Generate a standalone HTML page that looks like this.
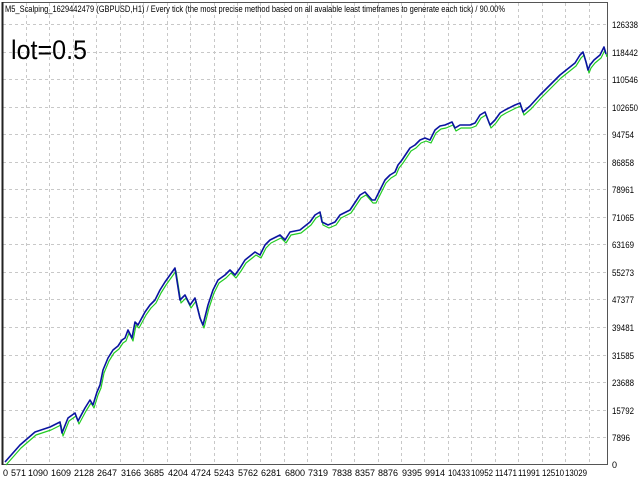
<!DOCTYPE html>
<html><head><meta charset="utf-8"><style>
html,body{margin:0;padding:0;background:#fff;}
svg{display:block;font-family:"Liberation Sans",Arial,sans-serif;}
</style></head><body>
<svg width="640" height="480" viewBox="0 0 640 480" xmlns="http://www.w3.org/2000/svg">
<rect width="640" height="480" fill="#fff"/>
<g stroke="#c8c8c8" stroke-width="1" stroke-dasharray="3,3">
<line x1="3" y1="24.5" x2="607" y2="24.5"/><line x1="3" y1="52.5" x2="607" y2="52.5"/><line x1="3" y1="79.5" x2="607" y2="79.5"/><line x1="3" y1="107.5" x2="607" y2="107.5"/><line x1="3" y1="134.5" x2="607" y2="134.5"/><line x1="3" y1="162.5" x2="607" y2="162.5"/><line x1="3" y1="189.5" x2="607" y2="189.5"/><line x1="3" y1="217.5" x2="607" y2="217.5"/><line x1="3" y1="244.5" x2="607" y2="244.5"/><line x1="3" y1="272.5" x2="607" y2="272.5"/><line x1="3" y1="299.5" x2="607" y2="299.5"/><line x1="3" y1="327.5" x2="607" y2="327.5"/><line x1="3" y1="355.5" x2="607" y2="355.5"/><line x1="3" y1="382.5" x2="607" y2="382.5"/><line x1="3" y1="410.5" x2="607" y2="410.5"/><line x1="3" y1="437.5" x2="607" y2="437.5"/>
<line x1="26.5" y1="3" x2="26.5" y2="464"/><line x1="49.5" y1="3" x2="49.5" y2="464"/><line x1="73.5" y1="3" x2="73.5" y2="464"/><line x1="96.5" y1="3" x2="96.5" y2="464"/><line x1="120.5" y1="3" x2="120.5" y2="464"/><line x1="143.5" y1="3" x2="143.5" y2="464"/><line x1="167.5" y1="3" x2="167.5" y2="464"/><line x1="190.5" y1="3" x2="190.5" y2="464"/><line x1="214.5" y1="3" x2="214.5" y2="464"/><line x1="237.5" y1="3" x2="237.5" y2="464"/><line x1="260.5" y1="3" x2="260.5" y2="464"/><line x1="284.5" y1="3" x2="284.5" y2="464"/><line x1="307.5" y1="3" x2="307.5" y2="464"/><line x1="331.5" y1="3" x2="331.5" y2="464"/><line x1="354.5" y1="3" x2="354.5" y2="464"/><line x1="378.5" y1="3" x2="378.5" y2="464"/><line x1="401.5" y1="3" x2="401.5" y2="464"/><line x1="424.5" y1="3" x2="424.5" y2="464"/><line x1="448.5" y1="3" x2="448.5" y2="464"/><line x1="471.5" y1="3" x2="471.5" y2="464"/><line x1="495.5" y1="3" x2="495.5" y2="464"/><line x1="518.5" y1="3" x2="518.5" y2="464"/><line x1="542.5" y1="3" x2="542.5" y2="464"/><line x1="565.5" y1="3" x2="565.5" y2="464"/><line x1="589.5" y1="3" x2="589.5" y2="464"/>
</g>
<rect x="2.5" y="2.5" width="605" height="462" fill="none" stroke="#555" stroke-width="1"/>
<line x1="2.5" y1="2" x2="2.5" y2="465" stroke="#222" stroke-width="2"/>
<g fill="none" stroke-linejoin="round">
<polyline stroke="#22cc22" stroke-width="1.2" transform="translate(1,3)" points="5,462 20,445 35,432 50,427 60,422 62,433 68,418 75,413 78,421 85,408 90,400 93,405 97,392 100,385 103,370 108,358 113,350 118,346 122,340 125,338 128,330 132,338 135,322 138,325 145,312 150,305 155,300 160,290 165,282 170,275 175,268 180,300 185,295 190,305 195,298 200,318 203,325 208,305 213,290 218,280 225,275 230,270 235,275 240,268 245,260 255,252 260,255 265,245 270,240 280,235 285,240 290,232 300,230 310,222 315,215 320,212 322,222 328,225 335,222 340,215 350,210 360,195 365,192 372,200 375,200 380,190 385,180 390,175 395,172 398,165 402,160 410,148 415,145 420,140 425,138 430,140 435,130 440,126 445,125 452,122 455,128 460,125 470,125 475,123 480,115 485,112 490,125 495,120 500,113 505,110 515,105 520,103 523,112 530,106 540,95 550,85 560,75 570,67 575,63 580,55 583,52 586,62 588,70 590,65 594,60 600,55 604,47 606,54"/>
<polyline stroke="#0a14a0" stroke-width="1.6" points="5,462 20,445 35,432 50,427 60,422 62,433 68,418 75,413 78,421 85,408 90,400 93,405 97,392 100,385 103,370 108,358 113,350 118,346 122,340 125,338 128,330 132,338 135,322 138,325 145,312 150,305 155,300 160,290 165,282 170,275 175,268 180,300 185,295 190,305 195,298 200,318 203,325 208,305 213,290 218,280 225,275 230,270 235,275 240,268 245,260 255,252 260,255 265,245 270,240 280,235 285,240 290,232 300,230 310,222 315,215 320,212 322,222 328,225 335,222 340,215 350,210 360,195 365,192 372,200 375,200 380,190 385,180 390,175 395,172 398,165 402,160 410,148 415,145 420,140 425,138 430,140 435,130 440,126 445,125 452,122 455,128 460,125 470,125 475,123 480,115 485,112 490,125 495,120 500,113 505,110 515,105 520,103 523,112 530,106 540,95 550,85 560,75 570,67 575,63 580,55 583,52 586,62 588,70 590,65 594,60 600,55 604,47 606,54"/>
</g>
<text x="5" y="12" font-size="9" fill="#000" textLength="500" lengthAdjust="spacingAndGlyphs">M5_Scalping_1629442479 (GBPUSD,H1) / Every tick (the most precise method based on all avalable least timeframes to generate each tick) / 90.00%</text>
<text x="11" y="59" font-size="27" fill="#000" textLength="76" lengthAdjust="spacingAndGlyphs">lot=0.5</text>
<g font-size="9" fill="#000">
<text x="612" y="28" textLength="26" lengthAdjust="spacingAndGlyphs">126338</text><text x="612" y="56" textLength="26" lengthAdjust="spacingAndGlyphs">118442</text><text x="612" y="83" textLength="26" lengthAdjust="spacingAndGlyphs">110546</text><text x="612" y="111" textLength="26" lengthAdjust="spacingAndGlyphs">102650</text><text x="612" y="138" textLength="22" lengthAdjust="spacingAndGlyphs">94754</text><text x="612" y="166" textLength="22" lengthAdjust="spacingAndGlyphs">86858</text><text x="612" y="193" textLength="22" lengthAdjust="spacingAndGlyphs">78961</text><text x="612" y="221" textLength="22" lengthAdjust="spacingAndGlyphs">71065</text><text x="612" y="248" textLength="22" lengthAdjust="spacingAndGlyphs">63169</text><text x="612" y="276" textLength="22" lengthAdjust="spacingAndGlyphs">55273</text><text x="612" y="303" textLength="22" lengthAdjust="spacingAndGlyphs">47377</text><text x="612" y="331" textLength="22" lengthAdjust="spacingAndGlyphs">39481</text><text x="612" y="359" textLength="22" lengthAdjust="spacingAndGlyphs">31585</text><text x="612" y="386" textLength="22" lengthAdjust="spacingAndGlyphs">23688</text><text x="612" y="414" textLength="22" lengthAdjust="spacingAndGlyphs">15792</text><text x="612" y="441" textLength="18" lengthAdjust="spacingAndGlyphs">7896</text><text x="612" y="468">0</text>
</g>
<g font-size="9" fill="#000" text-anchor="end">
<text x="8" y="476">0</text><text x="26" y="476">571</text><text x="48" y="476">1090</text><text x="71" y="476">1609</text><text x="94" y="476">2128</text><text x="117" y="476">2647</text><text x="141" y="476">3166</text><text x="164" y="476">3685</text><text x="188" y="476">4204</text><text x="211" y="476">4724</text><text x="234" y="476">5243</text><text x="258" y="476">5762</text><text x="281" y="476">6281</text><text x="305" y="476">6800</text><text x="328" y="476">7319</text><text x="352" y="476">7838</text><text x="375" y="476">8357</text><text x="398" y="476">8876</text><text x="422" y="476">9395</text><text x="445" y="476">9914</text><text x="470" y="476" textLength="22" lengthAdjust="spacingAndGlyphs">10433</text><text x="493" y="476" textLength="22" lengthAdjust="spacingAndGlyphs">10952</text><text x="517" y="476" textLength="22" lengthAdjust="spacingAndGlyphs">11471</text><text x="540" y="476" textLength="22" lengthAdjust="spacingAndGlyphs">11991</text><text x="564" y="476" textLength="22" lengthAdjust="spacingAndGlyphs">12510</text><text x="587" y="476" textLength="22" lengthAdjust="spacingAndGlyphs">13029</text>
</g>
</svg>
</body></html>
